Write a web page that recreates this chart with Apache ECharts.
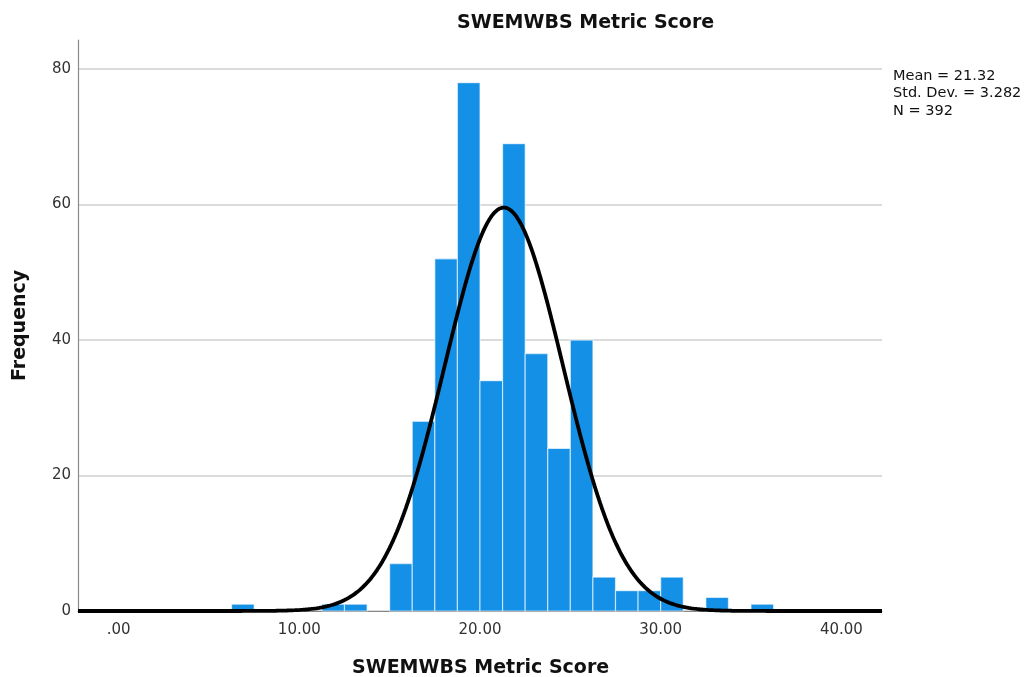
<!DOCTYPE html>
<html>
<head>
<meta charset="utf-8">
<script src="https://cdn.jsdelivr.net/npm/echarts@6/dist/echarts.min.js"></script>
<style>
html,body{margin:0;padding:0;background:#fff;}
#chart{width:1024px;height:677px;}
</style>
</head>
<body>
<div id="chart"></div>
<script>
// ---- data ----
var binStart = 6.25;
var binWidth = 1.25;
var binCounts = [1,0,0,0,1,1,0,7,28,52,78,34,69,38,24,40,5,3,3,5,0,2,0,1];
var xTickValues = [0,10,20,30,40];
var xTickLabels = ['.00','10.00','20.00','30.00','40.00'];
var yTickValues = [0,20,40,60,80];
var statsLines = ['Mean = 21.32','Std. Dev. = 3.282','N = 392'];
var meanVal = 21.32;
var sdVal = 3.282;
var nVal = 392;
var chartTitle = 'SWEMWBS Metric Score';
var xTitle = 'SWEMWBS Metric Score';
var yTitle = 'Frequency';

var xMin = -2.25, xMax = 42.25, yMax = 84.3;

var barData = binCounts.map(function(c,i){ return [binStart + i*binWidth, binStart + (i+1)*binWidth, c]; });

// fitted normal curve from the stated mean / sd / N
var curve = [];
for (var x = xMin; x <= xMax + 1e-9; x += 0.05) {
  var z = (x - meanVal) / sdVal;
  curve.push([x, nVal * binWidth * Math.exp(-0.5*z*z) / (sdVal*Math.sqrt(2*Math.PI))]);
}

var chart = echarts.init(document.getElementById('chart'), null, {renderer:'canvas'});
var font = 'DejaVu Sans';
chart.setOption({
  animation: false,
  backgroundColor: '#ffffff',
  grid: {left: 78, right: 142, top: 40, bottom: 66, containLabel: false},
  xAxis: {
    type: 'value', min: xMin, max: xMax,
    axisLine: {show: true, onZero: false, lineStyle: {color: '#8a8a8a', width: 1}},
    axisTick: {show: false, customValues: xTickValues},
    splitLine: {show: false},
    axisLabel: {
      customValues: xTickValues,
      formatter: function(v){ var i = xTickValues.indexOf(v); return i >= 0 ? xTickLabels[i] : ''; },
      fontFamily: font, fontSize: 15, color: '#333', margin: 12
    }
  },
  yAxis: {
    type: 'value', min: 0, max: yMax,
    axisLine: {show: true, onZero: false, lineStyle: {color: '#8a8a8a', width: 1.2}},
    axisTick: {show: false, customValues: yTickValues},
    splitLine: {show: true, lineStyle: {color: '#cfcfcf', width: 1.5}},
    axisLabel: {customValues: yTickValues, fontFamily: font, fontSize: 15, color: '#333', margin: 7}
  },
  graphic: [
    {type: 'text', left: 584 - 127, top: 14, style: {text: chartTitle, font: 'bold 19px "DejaVu Sans"', fill: '#111'}},
    {type: 'text', left: 479 - 127, top: 659, style: {text: xTitle, font: 'bold 19px "DejaVu Sans"', fill: '#111'}},
    {type: 'text', x: 11, y: 381, rotation: Math.PI/2, style: {text: yTitle, font: 'bold 19px "DejaVu Sans"', fill: '#111'}},
    {type: 'text', left: 893, top: 67, style: {text: statsLines.join('\n'), font: '14.5px "DejaVu Sans"', lineHeight: 17.5, fill: '#111'}}
  ],
  series: [
    {
      type: 'custom',
      z: 2,
      data: barData,
      encode: {x: [0,1], y: 2},
      renderItem: function(params, api){
        var c = api.value(2);
        if (!c) return null;
        var p0 = api.coord([api.value(0), c]);
        var p1 = api.coord([api.value(1), 0]);
        return {
          type: 'rect',
          shape: {x: p0[0], y: p0[1], width: p1[0]-p0[0], height: p1[1]-p0[1]},
          style: {fill: '#1490e6', stroke: 'rgba(255,255,255,0.6)', lineWidth: 1.2}
        };
      }
    },
    {
      type: 'line',
      z: 3,
      data: curve,
      showSymbol: false,
      symbol: 'none',
      clip: false,
      lineStyle: {color: '#000', width: 3.8},
      silent: true
    }
  ]
});
</script>
</body>
</html>
